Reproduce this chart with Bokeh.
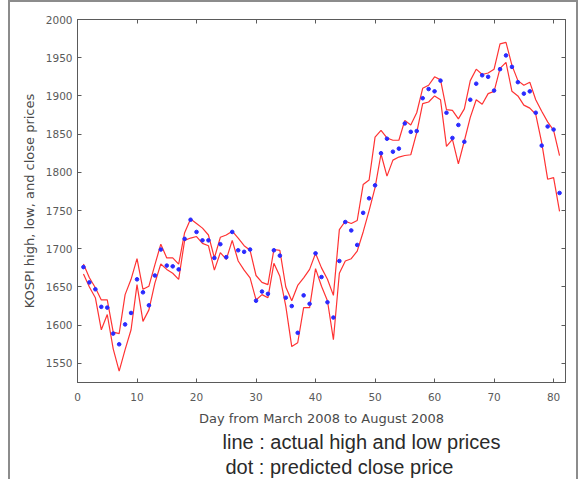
from bokeh.plotting import figure
from bokeh.models import LinearAxis, FixedTicker, Range1d, Title, ColumnDataSource, CustomJSTickFormatter
from bokeh.embed import file_html
from bokeh.resources import INLINE

days = list(range(1, 82))
high = [1680, 1662, 1649, 1633, 1633, 1591, 1589, 1640, 1660, 1687,
        1647, 1651, 1679, 1706, 1688, 1688, 1680, 1721, 1739, 1733,
        1727, 1718, 1688, 1715, 1718, 1723, 1714, 1704, 1698, 1665,
        1656, 1653, 1699, 1698, 1650, 1632, 1652, 1662, 1673, 1694,
        1675, 1660, 1639, 1725, 1736, 1733, 1737, 1784, 1790, 1846,
        1855, 1845, 1842, 1842, 1868, 1862, 1878, 1910, 1914, 1925,
        1921, 1882, 1881, 1870, 1883, 1920, 1935, 1928, 1930, 1935,
        1968, 1970, 1940, 1920, 1914, 1918, 1895, 1880, 1866, 1855,
        1822]
low = [1667, 1650, 1636, 1594, 1614, 1569, 1540, 1568, 1594, 1653,
       1605, 1620, 1655, 1680, 1673, 1668, 1660, 1711, 1714, 1716,
       1707, 1704, 1672, 1695, 1686, 1711, 1684, 1672, 1662, 1633,
       1640, 1636, 1681, 1664, 1625, 1572, 1577, 1623, 1623, 1674,
       1651, 1632, 1581, 1668, 1684, 1687, 1697, 1722, 1750, 1780,
       1824, 1795, 1816, 1820, 1822, 1823, 1852, 1890, 1892, 1900,
       1895, 1834, 1843, 1811, 1841, 1872, 1895, 1889, 1903, 1906,
       1936, 1944, 1906, 1900, 1888, 1884, 1876, 1839, 1791, 1793,
       1749]
pred = [1676, 1656, 1647, 1624, 1623, 1589, 1575, 1601, 1616, 1660,
        1643, 1626, 1665, 1699, 1678, 1677, 1673, 1713, 1738, 1722,
        1711, 1711, 1688, 1706, 1689, 1722, 1698, 1696, 1699, 1632,
        1644, 1641, 1698, 1691, 1636, 1625, 1590, 1639, 1628, 1694,
        1663, 1630, 1610, 1684, 1735, 1724, 1705, 1747, 1766, 1783,
        1825, 1844, 1827, 1831, 1864, 1853, 1854, 1897, 1909, 1906,
        1920, 1878, 1845, 1862, 1840, 1895, 1916, 1927, 1925, 1907,
        1935, 1953, 1938, 1918, 1903, 1906, 1878, 1835, 1860, 1856,
        1773]
x_ticks = [0, 10, 20, 30, 40, 50, 60, 70, 80]
y_ticks = [1550, 1600, 1650, 1700, 1750, 1800, 1850, 1900, 1950, 2000]
notes = ["line : actual high and low prices", "dot : predicted close price"]

src = ColumnDataSource(dict(day=days, high=high, low=low, pred=pred))

AX = "#5a5a5a"
FONT = "DejaVu Sans"

p = figure(width=570, height=479, output_backend="svg", toolbar_location=None,
           x_range=Range1d(0, 82), y_range=Range1d(1525, 2000))
p.margin = (0, 0, 0, 8)
p.styles = {"box-shadow": "inset 2px 2px 0 0 #8c8c8c, inset -2px 0 0 0 #8c8c8c"}
p.min_border_left = 69
p.min_border_right = 13
p.min_border_top = 19
p.min_border_bottom = 97
p.xgrid.visible = False
p.ygrid.visible = False
p.outline_line_color = AX
p.outline_line_width = 1
p.background_fill_color = "white"
p.border_fill_alpha = 0

for ax, tk in ((p.xaxis[0], x_ticks), (p.yaxis[0], y_ticks)):
    ax.ticker = FixedTicker(ticks=tk)
    ax.axis_line_color = AX
    ax.major_tick_line_color = AX
    ax.major_tick_in = 4
    ax.major_tick_out = 0
    ax.minor_tick_line_color = None
    ax.major_label_text_font = FONT
    ax.major_label_text_font_size = "10.5px"
    ax.major_label_text_color = "#5a5a5a"
    ax.axis_label_text_font = FONT
    ax.axis_label_text_font_size = "13px"
    ax.axis_label_text_font_style = "normal"
    ax.axis_label_text_color = "#4a4a4a"

p.xaxis.axis_label = "Day from March 2008 to August 2008"
p.yaxis.axis_label = "KOSPI high, low, and close prices"
p.xaxis.major_label_standoff = 10
p.xaxis.axis_label_standoff = 7
p.yaxis.major_label_standoff = 5
p.yaxis.axis_label_standoff = 6

top = LinearAxis(ticker=FixedTicker(ticks=x_ticks))
right = LinearAxis(ticker=FixedTicker(ticks=y_ticks))
for ax in (top, right):
    ax.axis_line_color = AX
    ax.major_tick_line_color = AX
    ax.major_tick_in = 4
    ax.major_tick_out = 0
    ax.minor_tick_line_color = None
    ax.formatter = CustomJSTickFormatter(code="return ''")
    ax.major_label_standoff = 0
p.add_layout(top, "above")
p.add_layout(right, "right")

p.line("day", "high", source=src, line_color="#ff3333", line_width=1.2)
p.line("day", "low", source=src, line_color="#ff3333", line_width=1.2)
p.scatter("day", "pred", source=src, marker="circle", size=3.6,
          fill_color="#2a2aff", line_color="#2a2aff")

for txt, off, so in zip(notes, (145, 148), (0, 3)):
    p.add_layout(Title(text=txt, align="left", offset=off, standoff=so,
                       text_font="Liberation Sans", text_font_size="20px",
                       text_font_style="normal", text_color="#2a2a2a"), "below")

open("out.html", "w").write(file_html(p, INLINE))
